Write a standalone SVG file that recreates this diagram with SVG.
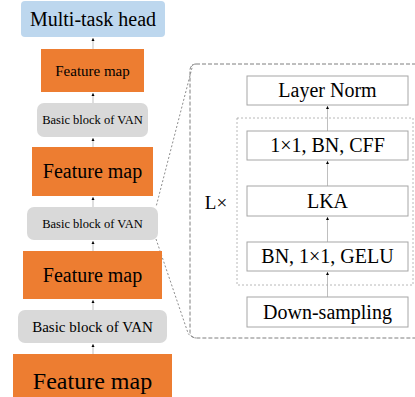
<svg xmlns="http://www.w3.org/2000/svg" width="415" height="397" viewBox="0 0 415 397">
<defs>
<style>
text{font-family:"Liberation Serif","Times New Roman",serif;fill:#000;text-anchor:middle}
.fm{fill:#ed7d31}
.bb{fill:#d9d9d9}
.hd{fill:#bdd7ee}
.bx{fill:#fff;stroke:#a6a6a6;stroke-width:1}
.ar{stroke:#bfbfbf;stroke-width:1;fill:none;marker-end:url(#ah)}
.zoom{stroke:#7f7f7f;stroke-width:0.9;fill:none;stroke-dasharray:2,2}
</style>
<marker id="ah" markerWidth="4" markerHeight="4" refX="3" refY="2" orient="auto" markerUnits="userSpaceOnUse">
<path d="M0,0.5 L3,2 L0,3.5 Z" fill="#000"/>
</marker>
</defs>
<g id="connectors">
<line class="ar" x1="93" y1="49" x2="93" y2="38"/>
<line class="ar" x1="93" y1="103" x2="93" y2="93"/>
<line class="ar" x1="93" y1="147" x2="93" y2="138"/>
<line class="ar" x1="93" y1="207" x2="93" y2="197"/>
<line class="ar" x1="93" y1="251" x2="93" y2="241"/>
<line class="ar" x1="93" y1="310" x2="93" y2="300"/>
<line class="ar" x1="93" y1="354" x2="93" y2="344"/>
<line class="ar" x1="327.5" y1="297" x2="327.5" y2="272"/>
<line class="ar" x1="327.5" y1="242" x2="327.5" y2="217"/>
<line class="ar" x1="327.5" y1="186" x2="327.5" y2="161"/>
<line class="ar" x1="327.5" y1="131" x2="327.5" y2="106"/>
<path class="zoom" d="M193,64 L156,207"/>
<path class="zoom" d="M156,239 L188,333 Q190,337 196,338"/>
</g>
<g id="head"><rect class="hd" x="21" y="1" width="144" height="36" rx="4"/><text x="93" y="26" font-size="20">Multi-task head</text></g>
<g id="fm1"><rect class="fm" x="41" y="49" width="103" height="43"/><text x="92.5" y="75.5" font-size="15">Feature map</text></g>
<g id="bb1"><rect class="bb" x="37" y="103" width="111" height="34" rx="7"/><text x="92.5" y="124" font-size="12.5">Basic block of VAN</text></g>
<g id="fm2"><rect class="fm" x="32" y="147" width="121" height="49"/><text x="92.5" y="178" font-size="20">Feature map</text></g>
<g id="bb2"><rect class="bb" x="27" y="207" width="131" height="33" rx="7"/><text x="92.5" y="227.5" font-size="12.5">Basic block of VAN</text></g>
<g id="fm3"><rect class="fm" x="23" y="251" width="139" height="48"/><text x="92.5" y="281.5" font-size="20">Feature map</text></g>
<g id="bb3"><rect class="bb" x="18" y="310" width="149" height="33" rx="7"/><text x="92.5" y="332" font-size="15">Basic block of VAN</text></g>
<g id="fm4"><rect class="fm" x="13" y="354" width="159" height="50"/><text x="92.5" y="389" font-size="24">Feature map</text></g>
<g id="zoombox"><rect x="190" y="64" width="240" height="274" rx="6" fill="none" stroke="#7f7f7f" stroke-width="1" stroke-dasharray="4,2"/></g>
<g id="loop"><rect x="237" y="118" width="176" height="167" fill="none" stroke="#a6a6a6" stroke-width="0.8" stroke-dasharray="2,2"/><text x="216" y="209" font-size="19">L×</text></g>
<g id="ln"><rect class="bx" x="247" y="76" width="161" height="29"/><text x="327.5" y="97" font-size="20">Layer Norm</text></g>
<g id="cff"><rect class="bx" x="247" y="131" width="161" height="29"/><text x="327.5" y="152" font-size="20">1×1, BN, CFF</text></g>
<g id="lka"><rect class="bx" x="247" y="186" width="161" height="30"/><text x="327.5" y="208" font-size="20">LKA</text></g>
<g id="gelu"><rect class="bx" x="247" y="242" width="161" height="29"/><text x="327.5" y="263" font-size="20">BN, 1×1, GELU</text></g>
<g id="ds"><rect class="bx" x="247" y="297" width="161" height="30"/><text x="327.5" y="319" font-size="20">Down-sampling</text></g>
</svg>
